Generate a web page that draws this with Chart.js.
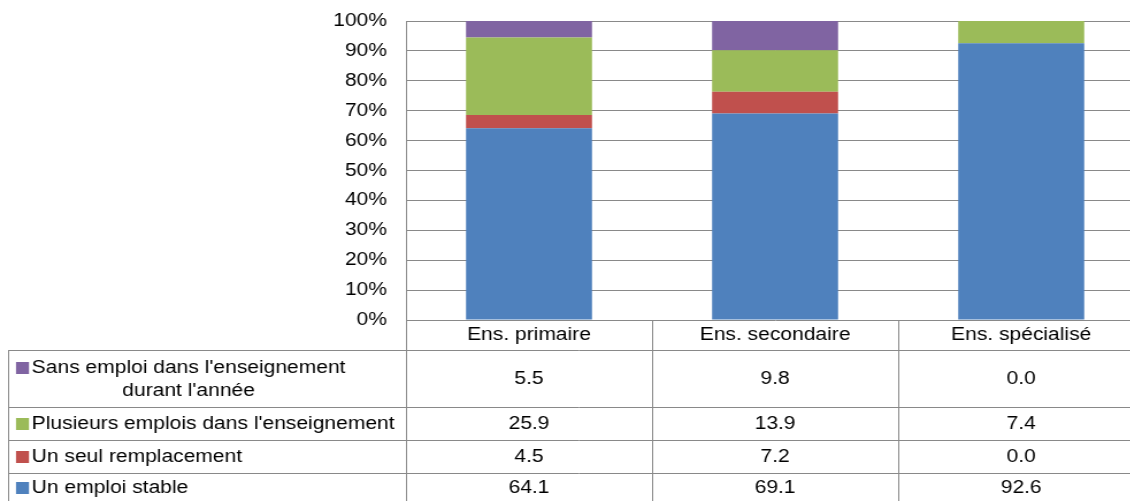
<!DOCTYPE html>
<html>
<head>
<meta charset="utf-8">
<script src="https://cdn.jsdelivr.net/npm/chart.js@4.4.0/dist/chart.umd.min.js"></script>
<style>
  html, body { margin: 0; padding: 0; overflow: hidden; background: #fff; width: 1130px; height: 501px; }
  /* the chart is laid out on a narrower canvas and widened horizontally */
  #c { display: block; transform: scaleX(1.15); transform-origin: 0 0; }
</style>
</head>
<body>
<canvas id="c" width="1000" height="501"></canvas>
<script>
// ---- data ----
const categories = ['Ens. primaire', 'Ens. secondaire', 'Ens. spécialisé'];

const emploiStable      = [64.1, 69.1, 92.6];
const seulRemplacement  = [4.5, 7.2, 0.0];
const plusieursEmplois  = [25.9, 13.9, 7.4];
const sansEmploi        = [5.5, 9.8, 0.0];

const seriesLabels = [
  ['Un emploi stable'],
  ['Un seul remplacement'],
  ["Plusieurs emplois dans l'enseignement"],
  ["Sans emploi dans l'enseignement", "durant l'année"]
];
const seriesColors = ['#4F81BD', '#C0504D', '#9BBB59', '#8064A2'];

const yTickValues = [0, 10, 20, 30, 40, 50, 60, 70, 80, 90, 100];
const yTickLabels = ['0%', '10%', '20%', '30%', '40%', '50%', '60%', '70%', '80%', '90%', '100%'];

// ---- style ----
const FONT_FAMILY = '"Liberation Sans", Arial, sans-serif';
const FONT_SIZE = 18.3;
const LINE = '#898989';

const seriesValues = [emploiStable, seulRemplacement, plusieursEmplois, sansEmploi];

// data table drawn under the plot, one column per category
const dataTable = {
  id: 'dataTable',
  afterDraw(chart) {
    const { ctx, chartArea, scales } = chart;
    const x = scales.x;
    const W = chart.width, H = chart.height;
    const top = chartArea.bottom;
    const tableLeft = 7;
    const rowLines = [top + 30, top + 87, top + 120, top + 153];
    const rowCenters = [top + 59, top + 103.5, top + 136.5, top + 168];

    const centers = categories.map((_, i) => x.getPixelForValue(i));
    const half = (centers[1] - centers[0]) / 2;
    const edges = [chartArea.left, ...centers.slice(0, -1).map(c => c + half)];

    ctx.save();
    ctx.strokeStyle = LINE;
    ctx.lineWidth = 1;
    ctx.beginPath();
    rowLines.forEach(y => { ctx.moveTo(tableLeft, y + 0.5); ctx.lineTo(W, y + 0.5); });
    ctx.moveTo(tableLeft + 0.5, rowLines[0]); ctx.lineTo(tableLeft + 0.5, H);
    edges.forEach(ex => { const px = Math.round(ex) + 0.5; ctx.moveTo(px, top); ctx.lineTo(px, H); });
    ctx.stroke();

    ctx.font = FONT_SIZE + 'px ' + FONT_FAMILY;
    ctx.fillStyle = '#000';
    ctx.textBaseline = 'middle';

    // rows listed top to bottom: last series first
    const order = [3, 2, 1, 0];
    order.forEach((s, r) => {
      const lines = seriesLabels[s];
      const cy = rowCenters[r];
      const lineGap = 23;
      const firstY = cy - (lines.length - 1) * lineGap / 2;
      const textLeft = 27.6;
      // legend key
      ctx.fillStyle = seriesColors[s];
      ctx.fillRect(13.9, Math.round(firstY - 6), 11.3, 12);
      ctx.fillStyle = '#000';
      const blockW = Math.max(...lines.map(t => ctx.measureText(t).width));
      lines.forEach((t, k) => {
        const y = firstY + k * lineGap;
        if (lines.length > 1) {
          ctx.textAlign = 'center';
          ctx.fillText(t, textLeft + blockW / 2, y);
        } else {
          ctx.textAlign = 'left';
          ctx.fillText(t, textLeft, y);
        }
      });
      // values
      ctx.textAlign = 'center';
      seriesValues[s].forEach((v, i) => {
        ctx.fillText(v.toFixed(1), centers[i], cy);
      });
    });
    ctx.restore();
  }
};

const datasets = seriesValues.map((vals, i) => ({
  label: seriesLabels[i].join(' '),
  data: vals,
  backgroundColor: seriesColors[i],
  borderWidth: 0,
  categoryPercentage: 1,
  barPercentage: 0.512
}));

new Chart(document.getElementById('c'), {
  type: 'bar',
  data: { labels: categories, datasets },
  options: {
    responsive: false,
    devicePixelRatio: 1,
    animation: false,
    layout: { padding: { top: 21, right: 5, bottom: 151, left: 0 } },
    plugins: { legend: { display: false }, tooltip: { enabled: false } },
    font: { family: FONT_FAMILY },
    scales: {
      x: {
        stacked: true,
        grid: { display: false, drawTicks: false },
        border: { display: false },
        ticks: {
          color: '#000',
          padding: 4,
          font: { family: FONT_FAMILY, size: FONT_SIZE },
          maxRotation: 0,
          autoSkip: false
        },
        afterFit(scale) { scale.height = 30; }
      },
      y: {
        stacked: true,
        min: 0,
        max: 100,
        afterBuildTicks(scale) { scale.ticks = yTickValues.map(v => ({ value: v })); },
        grid: { color: LINE, lineWidth: 1, drawTicks: false },
        border: { display: true, color: LINE, width: 1 },
        ticks: {
          color: '#000',
          padding: 16.5,
          font: { family: FONT_FAMILY, size: FONT_SIZE },
          callback: (v) => yTickLabels[yTickValues.indexOf(v)]
        },
        afterFit(scale) {
          scale.width = 353;
          // keep the label gap from pushing the plot top down
          scale.paddingTop = 11;
          scale.paddingBottom = 11;
        }
      }
    }
  },
  plugins: [dataTable]
});
</script>
</body>
</html>
